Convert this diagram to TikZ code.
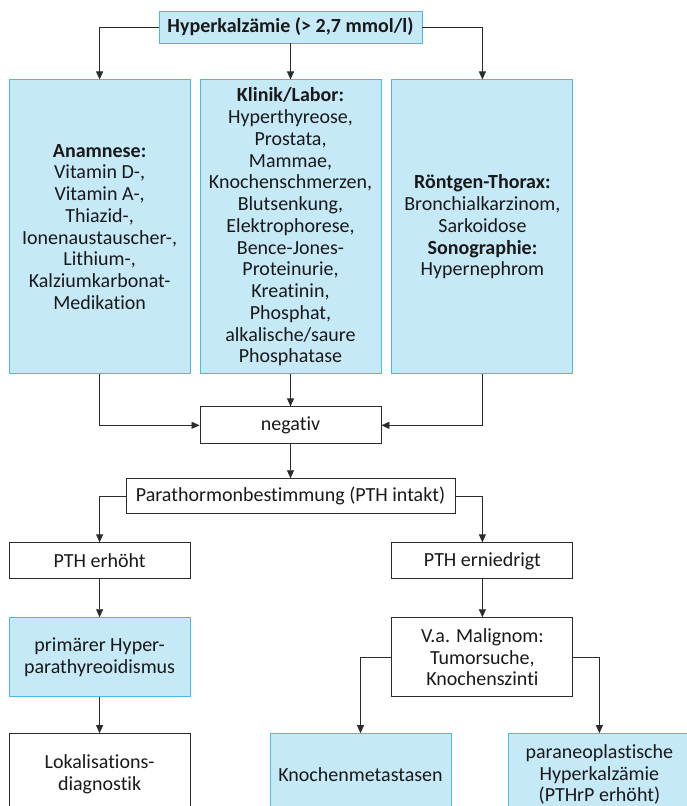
\documentclass[tikz,border=0pt]{standalone}
\usepackage{fontspec}
\setmainfont{Carlito}[RawFeature={-liga;-clig;-calt;-dlig}]
\usepackage{xcolor}
\usepackage{tikz}
\usetikzlibrary{arrows.meta, positioning}

\definecolor{boxblue}{HTML}{C6E9F8}
\definecolor{edgeblue}{HTML}{4DB8E8}
\definecolor{linegray}{HTML}{2B2B2B}

\begin{document}
\begin{tikzpicture}[
    x=1pt, y=1pt,
    font=\fontsize{20}{21.75}\selectfont,
    box/.style={rectangle, draw=linegray, line width=0.9pt, minimum width=181pt, inner sep=2pt, align=center, text=black!90},
    bluebox/.style={box, draw=edgeblue, fill=boxblue},
    arrow/.style={-{Triangle[length=8pt, width=7pt]}, draw=linegray, line width=0.8pt},
]
    \useasboundingbox (0,0) rectangle (686,-806);

    % Start
    \node[bluebox, minimum width=263pt, minimum height=32pt] (hyper) at (290.5,-27) {\textbf{Hyperkalzämie (> 2,7 mmol/l)}};

    % Diagnostik
    \node[bluebox, minimum height=294pt, below=36pt of hyper] (klinik) {\textbf{Klinik/Labor:}\\Hyperthyreose,\\Prostata,\\Mammae,\\Knochenschmerzen,\\Blutsenkung,\\Elektrophorese,\\Bence-Jones-\\Proteinurie,\\Kreatinin,\\Phosphat,\\alkalische/saure\\Phosphatase};
    \node[bluebox, minimum height=294pt, left=9pt of klinik] (anamnese) {\textbf{Anamnese:}\\Vitamin D-,\\Vitamin A-,\\Thiazid-,\\Ionenaustauscher-,\\Lithium-,\\Kalziumkarbonat-\\Medikation};
    \node[bluebox, minimum height=294pt, right=10pt of klinik] (roentgen) {\textbf{Röntgen-Thorax:}\\Bronchialkarzinom,\\Sarkoidose\\\textbf{Sonographie:}\\Hypernephrom};

    % PTH
    \node[box, minimum height=37pt, below=32pt of klinik] (negativ) {negativ};
    \node[box, minimum width=329pt, minimum height=35pt, below=34pt of negativ] (pth) {Parathormonbestimmung (PTH intakt)};
    \node[box, minimum height=36pt, below=168pt of anamnese] (erhoeht) {PTH erhöht};
    \node[box, minimum height=36pt, below=168pt of roentgen] (erniedrigt) {PTH erniedrigt};

    % Ergebnis
    \node[bluebox, minimum height=79pt, below=38pt of erhoeht] (primaer) {primärer Hyper-\\parathyreoidismus};
    \node[box, minimum height=79pt, below=38pt of erniedrigt] (malignom) {V.a. Malignom:\\Tumorsuche,\\Knochenszinti};
    \node[box, minimum height=82pt, below=36pt of primaer] (lokal) {Lokalisations-\\diagnostik};
    \node[bluebox, minimum height=82pt, right=79pt of lokal] (metast) {Knochenmetastasen};
    \node[bluebox, minimum height=82pt, right=57pt of metast] (paraneo) {paraneoplastische\\Hyperkalzämie\\(PTHrP erhöht)};

    % Arrows
    \draw[arrow] (hyper.west) -| (anamnese.north);
    \draw[arrow] (hyper) -- (klinik);
    \draw[arrow] (hyper.east) -| (roentgen.north);
    \draw[arrow] (anamnese.south) |- (negativ.west);
    \draw[arrow] (klinik) -- (negativ);
    \draw[arrow] (roentgen.south) |- (negativ.east);
    \draw[arrow] (negativ) -- (pth);
    \draw[arrow] (pth.west) -| (erhoeht.north);
    \draw[arrow] (pth.east) -| (erniedrigt.north);
    \draw[arrow] (erhoeht) -- (primaer);
    \draw[arrow] (primaer) -- (lokal);
    \draw[arrow] (erniedrigt) -- (malignom);
    \draw[arrow] (malignom.west) -| (metast.north);
    \draw[arrow] (malignom.east) -| (paraneo.north);
\end{tikzpicture}
\end{document}
